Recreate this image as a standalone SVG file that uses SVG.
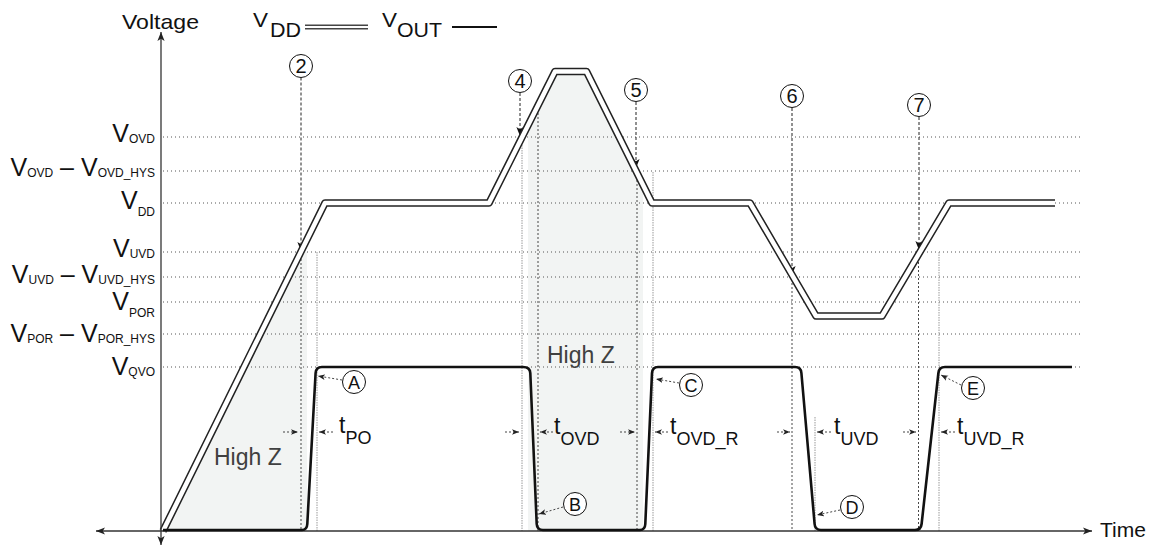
<svg xmlns="http://www.w3.org/2000/svg" width="1149" height="548" viewBox="0 0 1149 548">
<style>
text{font-family:"Liberation Sans",Arial,sans-serif;fill:#111}
.big{font-size:25px}
.sub{font-size:12px}
.grid{stroke:#555;stroke-width:1;stroke-dasharray:1 3;fill:none}
.dk{stroke:#333;stroke-width:0.9;stroke-dasharray:2 2;fill:none}
.gr{stroke:#999;stroke-width:1;stroke-dasharray:1.5 1;fill:none}
.mk{stroke:#222;stroke-width:1;stroke-dasharray:3 2;fill:none}
.ta{stroke:#444;stroke-width:1;stroke-dasharray:2 2;fill:none}
.circ{fill:#fff;stroke:#111;stroke-width:1}
.num{font-size:20px;text-anchor:middle}
.let{font-size:18px;text-anchor:middle}
.tt{font-size:23px}
.ts{font-size:18px}
.hz{font-size:23px;fill:#404040}
</style>
<defs>
<marker id="ax" viewBox="0 0 10 10" refX="10" refY="5" markerWidth="9" markerHeight="9" markerUnits="userSpaceOnUse" orient="auto-start-reverse"><path d="M0,1 L10,5 L0,9 L2.5,5 z" fill="#222"/></marker>
<marker id="ah" viewBox="0 0 10 10" refX="10" refY="5" markerWidth="9" markerHeight="9" markerUnits="userSpaceOnUse" orient="auto"><path d="M0,1 L10,5 L0,9 L2.5,5 z" fill="#111"/></marker>
<marker id="sa" viewBox="0 0 10 10" refX="10" refY="5" markerWidth="7" markerHeight="7" markerUnits="userSpaceOnUse" orient="auto"><path d="M0,1 L10,5 L0,9 L2.5,5 z" fill="#222"/></marker>
</defs>

<g id="shading" fill="#f2f4f3">
<polygon points="163,531 300.8,252 307,252 307,531"/>
<polygon points="528,531 528,125.3 555,71.5 586.5,71.5 643,184.9 643,531"/>
</g>

<g id="gridlines">
<line class="grid" x1="163" y1="137" x2="1080" y2="137"/>
<line class="grid" x1="163" y1="171" x2="1080" y2="171"/>
<line class="grid" x1="163" y1="203" x2="1080" y2="203"/>
<line class="grid" x1="163" y1="252" x2="1080" y2="252"/>
<line class="grid" x1="163" y1="277" x2="1080" y2="277"/>
<line class="grid" x1="163" y1="302" x2="1080" y2="302"/>
<line class="grid" x1="163" y1="334" x2="1080" y2="334"/>
<line class="grid" x1="163" y1="367" x2="1080" y2="367"/>
</g>

<g id="labels-left">
<text x="155" y="142" text-anchor="end"><tspan class="big">V</tspan><tspan class="sub" dy="0.5">OVD</tspan></text>
<text x="155" y="176" text-anchor="end"><tspan class="big">V</tspan><tspan class="sub" dy="0.5">OVD</tspan><tspan class="big" dy="-0.5"> – V</tspan><tspan class="sub" dy="0.5">OVD_HYS</tspan></text>
<text x="155" y="209" text-anchor="end"><tspan class="big">V</tspan><tspan class="sub" dy="7">DD</tspan></text>
<text x="155" y="257" text-anchor="end"><tspan class="big">V</tspan><tspan class="sub" dy="1">UVD</tspan></text>
<text x="155" y="283" text-anchor="end"><tspan class="big">V</tspan><tspan class="sub" dy="1">UVD</tspan><tspan class="big" dy="-1"> – V</tspan><tspan class="sub" dy="1">UVD_HYS</tspan></text>
<text x="155" y="310" text-anchor="end"><tspan class="big">V</tspan><tspan class="sub" dy="7">POR</tspan></text>
<text x="155" y="342" text-anchor="end"><tspan class="big">V</tspan><tspan class="sub" dy="1">POR</tspan><tspan class="big" dy="-1"> – V</tspan><tspan class="sub" dy="1">POR_HYS</tspan></text>
<text x="155" y="375" text-anchor="end"><tspan class="big">V</tspan><tspan class="sub" dy="1">QVO</tspan></text>
</g>

<g id="connectors">
<line class="mk" x1="301" y1="77.5" x2="301" y2="251" marker-end="url(#ah)"/>
<line class="dk" x1="301" y1="251" x2="301" y2="531"/>
<line class="gr" x1="317" y1="252" x2="317" y2="531"/>
<line class="mk" x1="520" y1="93" x2="520" y2="136" marker-end="url(#ah)"/>
<line class="gr" x1="522" y1="140" x2="522" y2="531"/>
<line class="dk" x1="538" y1="105" x2="538" y2="531"/>
<line class="mk" x1="636" y1="102" x2="636" y2="168" marker-end="url(#ah)"/>
<line class="dk" x1="637" y1="168" x2="637" y2="531"/>
<line class="gr" x1="653" y1="172" x2="653" y2="531"/>
<line class="mk" x1="792" y1="108" x2="792" y2="275" marker-end="url(#ah)"/>
<line class="dk" x1="792" y1="275" x2="792" y2="531"/>
<line class="gr" x1="815" y1="417" x2="815" y2="531"/>
<line class="mk" x1="919" y1="117" x2="919" y2="250" marker-end="url(#ah)"/>
<line class="dk" x1="918.5" y1="250" x2="918.5" y2="531"/>
<line class="gr" x1="939" y1="252" x2="939" y2="531"/>
<line class="ta" x1="283" y1="432" x2="298" y2="432" marker-end="url(#sa)"/>
<line class="ta" x1="333" y1="432" x2="319" y2="432" marker-end="url(#sa)"/>
<line class="ta" x1="505" y1="432" x2="519" y2="432" marker-end="url(#sa)"/>
<line class="ta" x1="553" y1="432" x2="540" y2="432" marker-end="url(#sa)"/>
<line class="ta" x1="620" y1="432" x2="635" y2="432" marker-end="url(#sa)"/>
<line class="ta" x1="668" y1="432" x2="655" y2="432" marker-end="url(#sa)"/>
<line class="ta" x1="777" y1="432" x2="790" y2="432" marker-end="url(#sa)"/>
<line class="ta" x1="831" y1="432" x2="817" y2="432" marker-end="url(#sa)"/>
<line class="ta" x1="903" y1="432" x2="916" y2="432" marker-end="url(#sa)"/>
<line class="ta" x1="955" y1="432" x2="941" y2="432" marker-end="url(#sa)"/>
<line class="ta" x1="342" y1="380" x2="318" y2="376" marker-end="url(#sa)"/>
<line class="ta" x1="563" y1="507" x2="539" y2="514" marker-end="url(#sa)"/>
<line class="ta" x1="679" y1="383" x2="656" y2="379" marker-end="url(#sa)"/>
<line class="ta" x1="840" y1="510" x2="817" y2="515" marker-end="url(#sa)"/>
<line class="ta" x1="961" y1="385" x2="941" y2="375" marker-end="url(#sa)"/>
</g>

<g id="vdd">
<path d="M163,531 L325,203 L489,203 L555,71.5 L586.5,71.5 L652,203 L750,203 L816,316 L882,316 L949,203 L1055,203" fill="none" stroke="#222" stroke-width="7.5" stroke-linejoin="round"/>
<path d="M163,531 L325,203 L489,203 L555,71.5 L586.5,71.5 L652,203 L750,203 L816,316 L882,316 L949,203 L1055,203" fill="none" stroke="#fff" stroke-width="4.5" stroke-linejoin="round"/>
</g>

<g id="axes">
<line x1="161" y1="545" x2="161" y2="32" stroke="#333" stroke-width="1.3" marker-start="url(#ax)" marker-end="url(#ax)"/>
<line x1="96" y1="531" x2="1092" y2="531" stroke="#333" stroke-width="1.3" marker-start="url(#ax)" marker-end="url(#ax)"/>
</g>

<g id="vout">
<path d="M163,530 H302 Q307,530 307.3,524 L315.6,373 Q316,367 322,367 H523 Q530,367 530.3,373 L536.7,524 Q537,530 543,530 H640 Q645,530 645.3,524 L652,373 Q652.5,367 658,367 H795 Q801,367 801.4,373 L814.6,524 Q815,530 821,530 H915 Q921,530 921.6,524 L938.4,373 Q939,367 945,367 H1072" fill="none" stroke="#111" stroke-width="2.6" stroke-linejoin="round"/>
</g>

<g id="axis-titles">
<text x="122" y="29" font-size="21" textLength="77" lengthAdjust="spacingAndGlyphs">Voltage</text>
<text x="1100" y="537" font-size="21">Time</text>
</g>

<g id="legend">
<text x="253" y="27" font-size="20" textLength="15" lengthAdjust="spacingAndGlyphs">V</text>
<text x="270" y="37" font-size="20" textLength="31" lengthAdjust="spacingAndGlyphs">DD</text>
<line x1="305" y1="27" x2="368" y2="27" stroke="#444" stroke-width="5"/>
<line x1="304" y1="27" x2="369" y2="27" stroke="#fff" stroke-width="2.2"/>
<text x="382" y="27" font-size="20" textLength="15" lengthAdjust="spacingAndGlyphs">V</text>
<text x="397" y="37" font-size="20" textLength="45" lengthAdjust="spacingAndGlyphs">OUT</text>
<line x1="452" y1="27" x2="497" y2="27" stroke="#111" stroke-width="2"/>
</g>

<g id="m2"><circle class="circ" cx="301" cy="66" r="11.5"/><text class="num" x="301" y="73">2</text></g>
<g id="m4"><circle class="circ" cx="520" cy="81" r="11.5"/><text class="num" x="520" y="88">4</text></g>
<g id="m5"><circle class="circ" cx="636" cy="90" r="11.5"/><text class="num" x="636" y="97">5</text></g>
<g id="m6"><circle class="circ" cx="792" cy="96" r="11.5"/><text class="num" x="792" y="103">6</text></g>
<g id="m7"><circle class="circ" cx="919" cy="105" r="11.5"/><text class="num" x="919" y="112">7</text></g>

<g id="mA"><circle class="circ" cx="354" cy="382" r="11.5"/><text class="let" x="354" y="388.5">A</text></g>
<g id="mB"><circle class="circ" cx="575" cy="504" r="11.5"/><text class="let" x="575" y="510.5">B</text></g>
<g id="mC"><circle class="circ" cx="691" cy="385" r="11.5"/><text class="let" x="691" y="391.5">C</text></g>
<g id="mD"><circle class="circ" cx="852" cy="507" r="11.5"/><text class="let" x="852" y="513.5">D</text></g>
<g id="mE"><circle class="circ" cx="973" cy="388" r="11.5"/><text class="let" x="973" y="394.5">E</text></g>

<g id="timing-labels">
<text x="339" y="433"><tspan class="tt">t</tspan><tspan class="ts" dy="11">PO</tspan></text>
<text x="554" y="434"><tspan class="tt">t</tspan><tspan class="ts" dy="11">OVD</tspan></text>
<text x="670" y="434"><tspan class="tt">t</tspan><tspan class="ts" dy="11">OVD_R</tspan></text>
<text x="834" y="434"><tspan class="tt">t</tspan><tspan class="ts" dy="11">UVD</tspan></text>
<text x="957" y="434"><tspan class="tt">t</tspan><tspan class="ts" dy="11">UVD_R</tspan></text>
</g>

<g id="highz">
<text class="hz" x="214" y="465">High Z</text>
<text class="hz" x="547" y="363">High Z</text>
</g>
</svg>
